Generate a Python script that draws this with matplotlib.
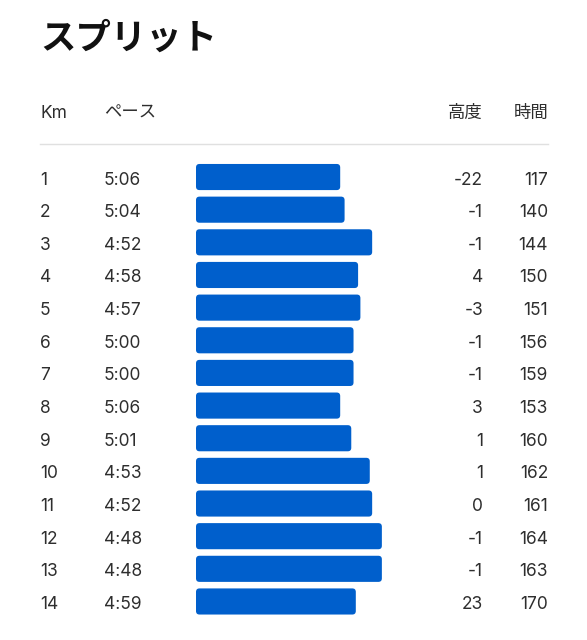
import matplotlib
matplotlib.use("Agg")
import matplotlib.pyplot as plt
from matplotlib.patches import FancyBboxPatch
from matplotlib.lines import Line2D
import matplotlib.transforms as mtransforms

plt.rcParams['font.family'] = ['Inter', 'Noto Sans CJK JP', 'DejaVu Sans']

km = [1, 2, 3, 4, 5, 6, 7, 8, 9, 10, 11, 12, 13, 14]
pace = ["5:06", "5:04", "4:52", "4:58", "4:57", "5:00", "5:00",
        "5:06", "5:01", "4:53", "4:52", "4:48", "4:48", "4:59"]
elev = [-22, -1, -1, 4, -3, -1, -1, 3, 1, 1, 0, -1, -1, 23]
time_col = [117, 140, 144, 150, 151, 156, 159, 153, 160, 162, 161, 164, 163, 170]

W, H = 587, 640
fig = plt.figure(figsize=(W / 100, H / 100), dpi=100)
fig.patch.set_facecolor('white')

# speed in km/h from pace
pace_sec = [int(p.split(":")[0]) * 60 + int(p.split(":")[1]) for p in pace]
speed = [3600 / s for s in pace_sec]
SPEED_MIN = 9.22
SPEED_MAX = 12.82

ax_l, ax_r = 196, 400
ax_t, ax_b = 160.7, 617.8
ax = fig.add_axes([ax_l / W, 1 - ax_b / H, (ax_r - ax_l) / W, (ax_b - ax_t) / H])
ax.set_xlim(SPEED_MIN, SPEED_MAX)
ax.set_ylim(len(km) + 0.5, 0.5)
ax.axis('off')

bar_color = '#005FCC'
bar_h = 0.8
px_x = (ax_r - ax_l) / (SPEED_MAX - SPEED_MIN)
px_y = (ax_b - ax_t) / len(km)
r = 3.5 / px_x
for k, s in zip(km, speed):
    box = FancyBboxPatch((SPEED_MIN, k - bar_h / 2), s - SPEED_MIN, bar_h,
                         boxstyle=f"round,pad=0,rounding_size={r}",
                         mutation_aspect=px_x / px_y,
                         facecolor=bar_color, edgecolor='none')
    ax.add_patch(box)

txt_color = '#2e2e2e'
fs = 12.5
tr = mtransforms.blended_transform_factory(fig.transFigure, ax.transData)
base_off = 7.5 / px_y  # baseline sits a little below the bar centre
for k, p, e, t in zip(km, pace, elev, time_col):
    y = k + base_off
    fig.text(40 / W, y, str(k), transform=tr, ha='left', va='baseline',
             fontsize=fs, color=txt_color)
    fig.text(104 / W, y, p, transform=tr, ha='left', va='baseline',
             fontsize=fs, color=txt_color)
    fig.text(483 / W, y, str(e), transform=tr, ha='right', va='baseline',
             fontsize=fs, color=txt_color)
    fig.text(548 / W, y, str(t), transform=tr, ha='right', va='baseline',
             fontsize=fs, color=txt_color)

# header
hy = 1 - 118 / H
fig.text(40 / W, hy, "Km", ha='left', va='baseline', fontsize=fs, color=txt_color)
fig.text(104 / W, hy, "ペース", ha='left', va='baseline', fontsize=fs, color=txt_color,
         family=['Noto Sans CJK JP'])
fig.text(483 / W, hy, "高度", ha='right', va='baseline', fontsize=fs, color=txt_color,
         family=['Noto Sans CJK JP'])
fig.text(548 / W, hy, "時間", ha='right', va='baseline', fontsize=fs, color=txt_color,
         family=['Noto Sans CJK JP'])

fig.add_artist(Line2D([40 / W, 548 / W], [1 - 144 / H, 1 - 144 / H],
                      transform=fig.transFigure, color='#e0e0e0', lw=1))

fig.text(40 / W, 1 - 38 / H, "スプリット", ha='left', va='center',
         fontsize=25.5, fontweight='bold', color='#111111',
         family=['Noto Sans CJK JP'])

fig.savefig("out.png", dpi=100, facecolor='white')
